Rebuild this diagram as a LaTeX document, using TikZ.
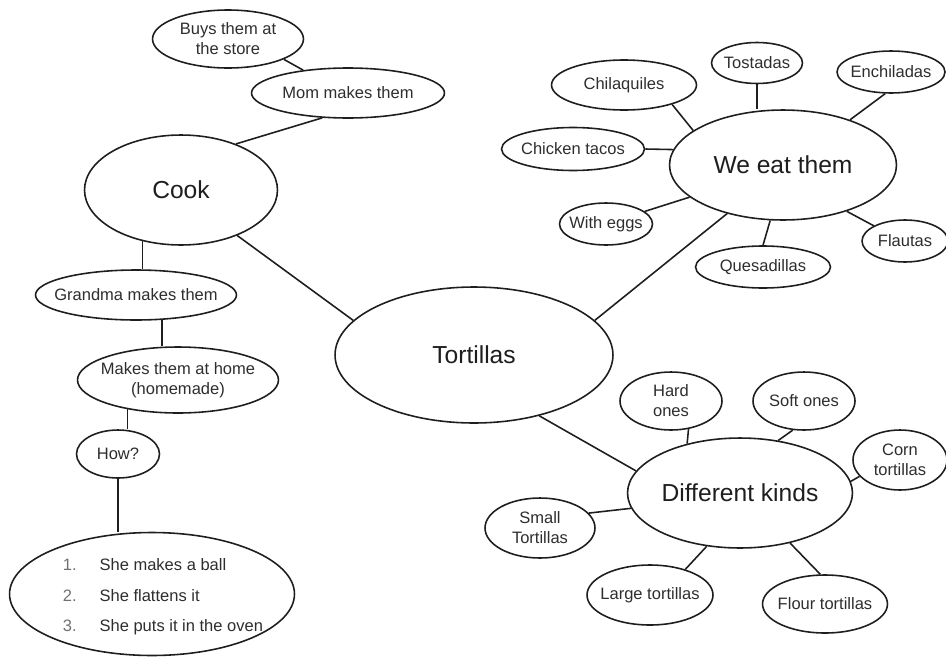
\documentclass[tikz,border=0pt]{standalone}
\usepackage{fontspec}
\setmainfont{Liberation Sans}
\usetikzlibrary{shapes.geometric}
\definecolor{inkBlack}{HTML}{1E1E1E}
\definecolor{textGray}{HTML}{2E2E2E}
\definecolor{numGray}{HTML}{707070}
\tikzset{
    bubble/.style={ellipse,draw=inkBlack,fill=white,line width=0.9pt,inner sep=0pt},
    smalltxt/.style={font=\fontsize{9.4}{11.4}\selectfont,text=textGray,
        align=center,inner sep=0pt},
    bigtxt/.style={font=\fontsize{14}{17}\selectfont,text=inkBlack,
        align=center,inner sep=0pt},
    link/.style={draw=inkBlack,line width=0.9pt}
}
\begin{document}
\begin{tikzpicture}[x=0.02cm,y=-0.02cm]
    \useasboundingbox (0,0) rectangle (946,656);

    % centre
    \node[bubble,minimum width=5.56cm,minimum height=2.72cm,
        label={[bigtxt]center:Tortillas}] (tort) at (474,355) {};

    % left branch: who cooks them
    \node[bubble,minimum width=3.86cm,minimum height=2.20cm,
        label={[bigtxt]center:Cook}] (cook) at (181,190) {};
    \node[bubble,minimum width=3.02cm,minimum height=1.16cm,
        label={[smalltxt]center:Buys them at\\the store}] (buys) at (228,39) {};
    \node[bubble,minimum width=3.86cm,minimum height=1.00cm,
        label={[smalltxt]center:Mom makes them}] (mom) at (348,93) {};
    \node[bubble,minimum width=4.02cm,minimum height=1.00cm,
        label={[smalltxt]center:Grandma makes them}] (gma) at (136,295) {};
    \node[bubble,minimum width=4.02cm,minimum height=1.32cm,
        label={[smalltxt]center:Makes them at home\\(homemade)}] (home) at (178,380) {};
    \node[bubble,minimum width=1.66cm,minimum height=0.96cm,
        label={[smalltxt]center:How?}] (how) at (118,454) {};
    \node[bubble,minimum width=5.70cm,minimum height=2.46cm,
        label={[smalltxt,xshift=0.22cm,yshift=-0.06cm]center:{%
            \begin{tabular}{@{}l@{\hspace{13pt}}l@{}}
            \textcolor{numGray}{1.} & She makes a ball\\[6.2pt]
            \textcolor{numGray}{2.} & She flattens it\\[6.2pt]
            \textcolor{numGray}{3.} & She puts it in the oven
            \end{tabular}}}] (steps) at (152,594) {};

    % upper right branch: dishes
    \node[bubble,minimum width=4.54cm,minimum height=2.20cm,
        label={[bigtxt]center:We eat them}] (weat) at (783,165) {};
    \node[bubble,minimum width=2.90cm,minimum height=1.00cm,
        label={[smalltxt]center:Chilaquiles}] (chil) at (624,85) {};
    \node[bubble,minimum width=1.82cm,minimum height=0.82cm,
        label={[smalltxt]center:Tostadas}] (tost) at (757,63) {};
    \node[bubble,minimum width=2.16cm,minimum height=0.84cm,
        label={[smalltxt]center:Enchiladas}] (ench) at (891,72) {};
    \node[bubble,minimum width=2.86cm,minimum height=0.86cm,
        label={[smalltxt]center:Chicken tacos}] (chick) at (573,149) {};
    \node[bubble,minimum width=1.86cm,minimum height=0.84cm,
        label={[smalltxt]center:With eggs}] (eggs) at (606,224) {};
    \node[bubble,minimum width=2.70cm,minimum height=0.84cm,
        label={[smalltxt]center:Quesadillas}] (ques) at (763,267) {};
    \node[bubble,minimum width=1.72cm,minimum height=0.84cm,
        label={[smalltxt]center:Flautas}] (flau) at (905,241) {};

    % lower right branch: kinds
    \node[bubble,minimum width=4.50cm,minimum height=2.20cm,
        label={[bigtxt]center:Different kinds}] (kinds) at (740,493) {};
    \node[bubble,minimum width=2.04cm,minimum height=1.16cm,
        label={[smalltxt]center:Hard\\ones}] (hard) at (671,401) {};
    \node[bubble,minimum width=2.04cm,minimum height=1.16cm,
        label={[smalltxt]center:Soft ones}] (soft) at (804,401) {};
    \node[bubble,minimum width=1.88cm,minimum height=1.20cm,
        label={[smalltxt]center:Corn\\tortillas}] (corn) at (900,460) {};
    \node[bubble,minimum width=2.20cm,minimum height=1.20cm,
        label={[smalltxt]center:Small\\Tortillas}] (small) at (540,528) {};
    \node[bubble,minimum width=2.52cm,minimum height=1.20cm,
        label={[smalltxt]center:Large tortillas}] (large) at (650,595) {};
    \node[bubble,minimum width=2.50cm,minimum height=1.16cm,
        label={[smalltxt]center:Flour tortillas}] (flour) at (825,604) {};

    % links
    \draw[link] (cook.-39) -- (tort.164);
    \draw[link] (tort.16) -- (weat.221);
    \draw[link] (tort.-43) -- (kinds.168);

    \draw[link] (buys.-20) -- (mom.153);
    \draw[link] (mom.224) -- (cook.40);
    \draw[link] (cook.233) -- (cook.233 |- gma.north);
    \draw[link] (gma.-44) -- (gma.-44 |- home.north);
    \draw[link] (home.210) -- (home.210 |- how.north);
    \draw[link] (how.south) -- (how.south |- steps.north);

    \draw[link] (chil.-22) -- (weat.159);
    \draw[link] (tost.south) -- (tost.south |- weat.north);
    \draw[link] (ench.-105) -- (weat.34);
    \draw[link] (chick.east) -- (weat.172);
    \draw[link] (eggs.18) -- (weat.199);
    \draw[link] (ques.north) -- (weat.-103);
    \draw[link] (flau.154) -- (weat.-36);

    \draw[link] (hard.-58) -- (kinds.137);
    \draw[link] (soft.-111) -- (kinds.54);
    \draw[link] (corn.202) -- (kinds.6);
    \draw[link] (small.17) -- (kinds.188);
    \draw[link] (large.36) -- (kinds.-122);
    \draw[link] (flour.99) -- (kinds.-45);
\end{tikzpicture}
\end{document}
